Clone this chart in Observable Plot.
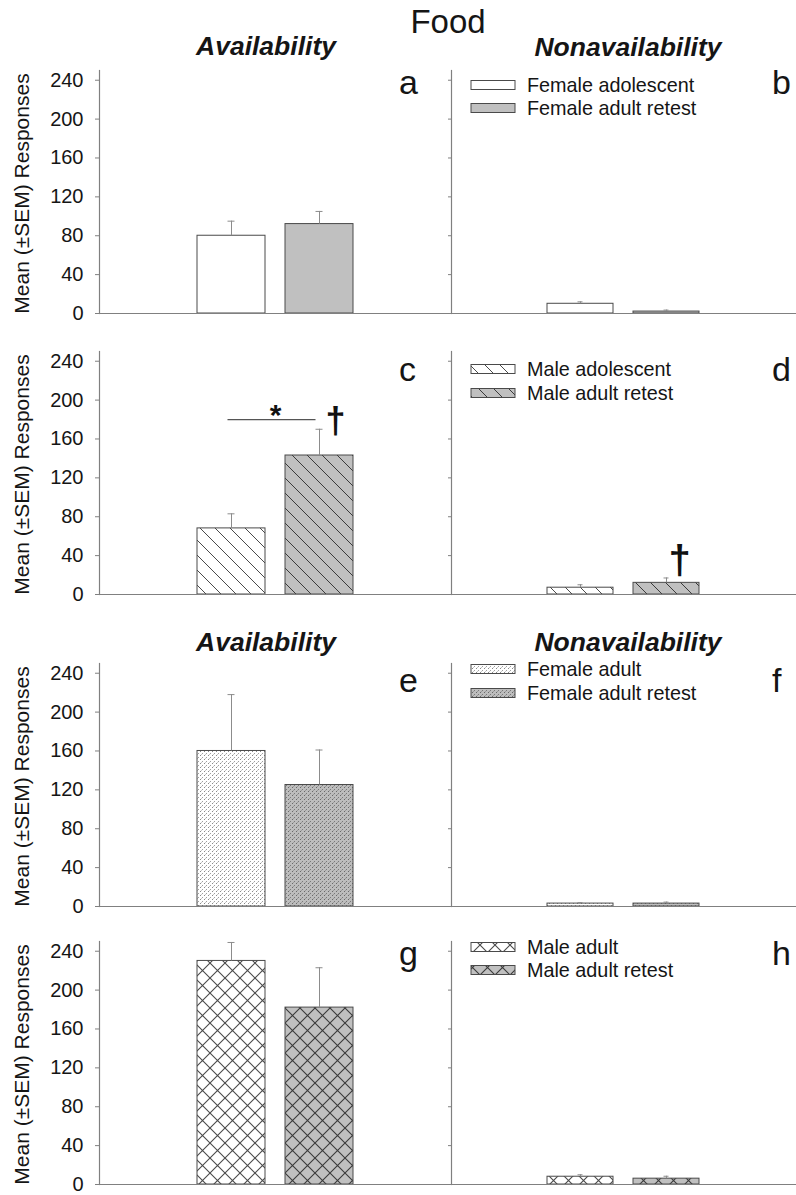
<!DOCTYPE html>
<html><head><meta charset="utf-8">
<script src="https://cdn.jsdelivr.net/npm/d3@7"></script>
<script src="https://cdn.jsdelivr.net/npm/@observablehq/plot@0.6"></script>
<style>
body{margin:0;background:#fff;font-family:"Liberation Sans",Arial,sans-serif;}
#stage{position:relative;width:796px;height:1195px;overflow:hidden;background:#fff;}
#stage svg{position:absolute;}
</style></head><body><div id="stage"></div>
<script>
// ---------- data ----------
const panelLetters = [["a","b"],["c","d"],["e","f"],["g","h"]];
const rowGroups = [
  ["Female adolescent","Female adult retest"],
  ["Male adolescent","Male adult retest"],
  ["Female adult","Female adult retest"],
  ["Male adult","Male adult retest"]
];
const availMeans    = [[80,92],[68,143],[160,125],[230,182]];
const availSEM      = [[15,13],[15,27],[58,36],[19,41]];
const nonavailMeans = [[10,2],[7,12],[3,3],[8,6]];
const nonavailSEM   = [[2,1.5],[3,5],[1,1.5],[2,2.5]];
const yTicks = [0,40,80,120,160,200,240];
const yDomain = [0,250];
const sigLines = [{row:1, panel:0, from:"Male adolescent", to:"Male adult retest", y:180, text:"*"}];
const daggers  = [{row:1, panel:0, group:"Male adult retest", y:178},
                  {row:1, panel:1, group:"Male adult retest", y:34}];
const title = "Food";
const colTitles = ["Availability","Nonavailability"];
const yLabel = "Mean (\u00B1SEM) Responses";

// ---------- styles / layout ----------
const fills = [["#ffffff","#c0c0c0"],["url(#hatchW)","url(#hatchG)"],["url(#dotW)","url(#dotG)"],["url(#crossW)","url(#crossG)"]];
const rowTop = [70,351,663,941];
const PH = 243;
const daggerStyle = [{size:36, dx:16},{size:40, dx:13}];
const FONT = "'Liberation Sans', Arial, sans-serif";
const stage = document.getElementById("stage");

function makePanel(r, p){
  const groups = rowGroups[r];
  const means = p===0 ? availMeans[r] : nonavailMeans[r];
  const sems  = p===0 ? availSEM[r] : nonavailSEM[r];
  const data = groups.map((g,i)=>({group:g, value:means[i], sem:sems[i], fill:fills[r][i]}));
  const left = p===0;
  const ml = left ? 99 : 10;
  const width = left ? 451 : 355;
  const marks = [
    Plot.barY(data, {x:"group", y:"value", fill:"fill", stroke:"#4a4a4a", strokeWidth:1}),
    Plot.ruleX(data, {x:"group", y1:"value", y2:d=>d.value+d.sem, stroke:"#8c8c8c", strokeWidth:1}),
    Plot.tickY(data, {x:"group", y:d=>d.value+d.sem, stroke:"#8c8c8c", strokeWidth:1, insetLeft:30.5, insetRight:30.5}),
    Plot.ruleY([0], {stroke:"#808080", strokeWidth:1.2}),
    Plot.frame({anchor:"left", stroke:"#808080", strokeWidth:1.2}),
    Plot.axisY({ticks:yTicks, tickSize:left?4:3, tickFormat:()=>"", stroke:"#808080", label:null})
  ];
  if (left) {
    marks.push(Plot.text(yTicks, {y:d=>d, text:d=>String(d), frameAnchor:"left", textAnchor:"end", dx:-16, fontSize:20, fill:"#151515"}));
  }
  sigLines.filter(s=>s.row===r && s.panel===p).forEach(s=>{
    marks.push(Plot.link([s], {x1:"from", x2:"to", y1:"y", y2:"y", stroke:"#555", strokeWidth:1.2, dx:-4}));
    marks.push(Plot.text([s], {x:"from", y:"y", text:"text", dx:44, dy:-4, fontSize:30, fontWeight:"bold", fill:"#111"}));
  });
  daggers.forEach((d,i)=>{
    if (d.row===r && d.panel===p) {
      marks.push(Plot.text([d], {x:"group", y:"y", text:()=>"\u2020", dx:daggerStyle[i].dx, fontSize:daggerStyle[i].size, fontWeight:"bold", fill:"#111"}));
    }
  });
  const svg = Plot.plot({
    width, height: PH+16, marginLeft: ml, marginRight:0, marginTop:8, marginBottom:8,
    x:{type:"band", domain:groups, paddingInner:0.23, paddingOuter:1.1, axis:null},
    y:{domain:yDomain},
    color:{type:"identity"},
    style:{fontFamily:FONT, fontSize:"20px", color:"#151515", background:"transparent", overflow:"visible"},
    marks
  });
  svg.style.left = (left ? 0 : 441) + "px";
  svg.style.top = (rowTop[r]-8) + "px";
  stage.appendChild(svg);
}

for (let r=0;r<4;r++){ makePanel(r,0); makePanel(r,1); }

// ---------- overlay: pattern defs, titles, letters, legends ----------
const NS = "http://www.w3.org/2000/svg";
const ov = document.createElementNS(NS,"svg");
ov.setAttribute("width",796); ov.setAttribute("height",1195);
ov.style.left="0px"; ov.style.top="0px"; ov.style.pointerEvents="none";
ov.innerHTML = `
<defs>
  <pattern id="hatchW" patternUnits="userSpaceOnUse" width="15" height="15">
    <rect width="15" height="15" fill="#ffffff"/>
    <path d="M0,0L15,15M-2,13L2,17M13,-2L17,2" stroke="#4a4a4a" stroke-width="1"/>
  </pattern>
  <pattern id="hatchG" patternUnits="userSpaceOnUse" width="15" height="15">
    <rect width="15" height="15" fill="#c0c0c0"/>
    <path d="M0,0L15,15M-2,13L2,17M13,-2L17,2" stroke="#3a3a3a" stroke-width="1"/>
  </pattern>
  <pattern id="dotW" patternUnits="userSpaceOnUse" width="4" height="4">
    <rect width="4" height="4" fill="#ffffff"/>
    <rect x="0" y="0" width="1" height="1" fill="#8a8a8a"/>
    <rect x="2" y="2" width="1" height="1" fill="#a0a0a0"/>
    <rect x="1" y="3" width="1" height="1" fill="#c8c8c8"/>
  </pattern>
  <pattern id="dotG" patternUnits="userSpaceOnUse" width="4" height="4">
    <rect width="4" height="4" fill="#bdbdbd"/>
    <rect x="0" y="0" width="1" height="1" fill="#6a6a6a"/>
    <rect x="2" y="2" width="1" height="1" fill="#7a7a7a"/>
    <rect x="1" y="3" width="1" height="1" fill="#9a9a9a"/>
  </pattern>
  <pattern id="crossW" patternUnits="userSpaceOnUse" width="15" height="15">
    <rect width="15" height="15" fill="#ffffff"/>
    <path d="M0,0L15,15M15,0L0,15" stroke="#4a4a4a" stroke-width="1.1"/>
  </pattern>
  <pattern id="crossG" patternUnits="userSpaceOnUse" width="15" height="15">
    <rect width="15" height="15" fill="#c0c0c0"/>
    <path d="M0,0L15,15M15,0L0,15" stroke="#3a3a3a" stroke-width="1.1"/>
  </pattern>
</defs>`;
function txt(str, x, y, opts={}){
  const t = document.createElementNS(NS,"text");
  t.textContent = str;
  t.setAttribute("x",x); t.setAttribute("y",y);
  t.setAttribute("font-family", opts.family || FONT);
  t.setAttribute("font-size", opts.size || 20);
  if (opts.weight) t.setAttribute("font-weight", opts.weight);
  if (opts.style) t.setAttribute("font-style", opts.style);
  t.setAttribute("text-anchor", opts.anchor || "start");
  t.setAttribute("fill", opts.fill || "#151515");
  if (opts.transform) t.setAttribute("transform", opts.transform);
  if (opts.dy) t.setAttribute("dy", opts.dy);
  ov.appendChild(t);
  return t;
}
txt(title, 448, 33, {size:33, anchor:"middle"});
txt(colTitles[0], 266, 55, {size:26.5, anchor:"middle", weight:"bold", style:"italic"});
txt(colTitles[1], 628, 56, {size:26.5, anchor:"middle", weight:"bold", style:"italic"});
txt(colTitles[0], 266, 651, {size:26.5, anchor:"middle", weight:"bold", style:"italic"});
txt(colTitles[1], 628, 651, {size:26.5, anchor:"middle", weight:"bold", style:"italic"});

const letterBase = [94, 381, 692, 965];
const legendY = [[85,108],[369,393],[669,693],[947,970]];
for (let r=0;r<4;r++){
  txt(panelLetters[r][0], 399, letterBase[r], {size:34});
  txt(panelLetters[r][1], 772, letterBase[r], {size:34});
  const cy = rowTop[r] + PH/2 + 2;
  txt(yLabel, 0, 0, {size:21, anchor:"middle", transform:`translate(29,${cy}) rotate(-90)`});
  rowGroups[r].forEach((g,i)=>{
    const y = legendY[r][i];
    const rect = document.createElementNS(NS,"rect");
    rect.setAttribute("x",471); rect.setAttribute("y",y-4.5);
    rect.setAttribute("width",44); rect.setAttribute("height",9);
    rect.setAttribute("fill",fills[r][i]); rect.setAttribute("stroke","#4a4a4a"); rect.setAttribute("stroke-width",1);
    ov.appendChild(rect);
    txt(g, 527, y, {size:19.8, dy:"0.36em"});
  });
}
stage.appendChild(ov);
</script>
</body></html>
